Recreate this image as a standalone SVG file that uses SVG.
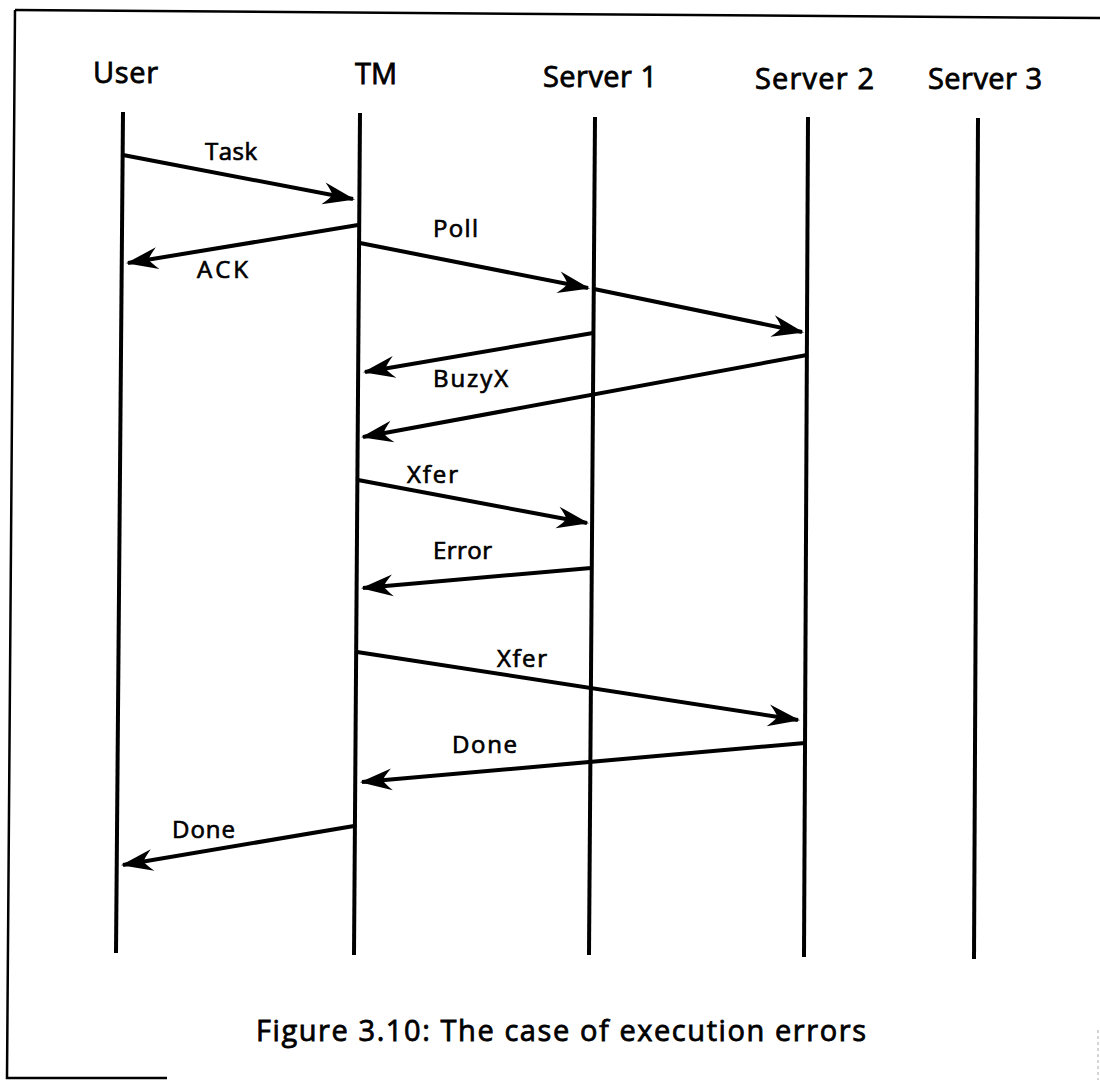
<svg xmlns="http://www.w3.org/2000/svg" width="1100" height="1080" viewBox="0 0 1100 1080">
  <defs>
    <style>
      .frame { fill: none; stroke: #000; stroke-width: 2.5; }
      .life { stroke: #000; stroke-width: 4; stroke-linecap: butt; }
      .msg { stroke: #000; stroke-width: 4; fill: none; marker-end: url(#arrow); }
      .hdr { font-family: "Open Sans", "Noto Sans", "DejaVu Sans", sans-serif; font-size: 29px; font-weight: 400; fill: #000; stroke: #000; stroke-width: 0.8; }
      .lbl { font-family: "Open Sans", "Noto Sans", "DejaVu Sans", sans-serif; font-size: 24px; font-weight: 400; fill: #000; stroke: #000; stroke-width: 0.7; }
      .cap { font-family: "Open Sans", "Noto Sans", "DejaVu Sans", sans-serif; font-size: 29px; font-weight: 400; fill: #000; stroke: #000; stroke-width: 0.8; }
    </style>
    <marker id="arrow" markerUnits="userSpaceOnUse" markerWidth="40" markerHeight="30" viewBox="-36 -15 40 30" refX="0" refY="0" orient="auto">
      <path d="M2,0 L-30,-11 Q-22,-3 -21,0 Q-22,3 -30,11 Z" fill="#000"/>
    </marker>
  </defs>
  <rect width="1100" height="1080" fill="#fff"/>

  <g id="frame">
    <path class="frame" d="M15,10 L1100,18"/>
    <path class="frame" d="M15,10 L7,1078 L167,1078"/>
    <path d="M1098,1030 L1098,1080" stroke="#aaa" stroke-width="1" stroke-dasharray="3,3"/>
  </g>

  <g id="node-user">
    <text class="hdr" x="93" y="83" textLength="65" lengthAdjust="spacing">User</text>
    <line class="life" x1="123" y1="112" x2="116" y2="953"/>
  </g>
  <g id="node-tm">
    <text class="hdr" x="355" y="84">TM</text>
    <line class="life" x1="360" y1="113" x2="354" y2="955"/>
  </g>
  <g id="node-server1">
    <text class="hdr" x="543" y="87" textLength="114" lengthAdjust="spacing">Server 1</text>
    <line class="life" x1="595" y1="117" x2="589" y2="955"/>
  </g>
  <g id="node-server2">
    <text class="hdr" x="755" y="89" textLength="119" lengthAdjust="spacing">Server 2</text>
    <line class="life" x1="808" y1="117" x2="804" y2="957"/>
  </g>
  <g id="node-server3">
    <text class="hdr" x="928" y="89" textLength="114" lengthAdjust="spacing">Server 3</text>
    <line class="life" x1="978" y1="118" x2="974" y2="959"/>
  </g>

  <g id="connectors">
    <g id="msg-task">
      <line class="msg" x1="123" y1="155" x2="353" y2="199"/>
      <text class="lbl" x="205" y="160" textLength="52" lengthAdjust="spacing">Task</text>
    </g>
    <g id="msg-ack">
      <line class="msg" x1="358" y1="225" x2="128" y2="263"/>
      <text class="lbl" x="197" y="278" textLength="51" lengthAdjust="spacing">ACK</text>
    </g>
    <g id="msg-poll1">
      <line class="msg" x1="360" y1="243" x2="588" y2="288"/>
      <text class="lbl" x="433" y="237" textLength="45" lengthAdjust="spacing">Poll</text>
    </g>
    <g id="msg-poll2">
      <line class="msg" x1="594" y1="289" x2="802" y2="332"/>
    </g>
    <g id="msg-buzy1">
      <line class="msg" x1="593" y1="333" x2="365" y2="372"/>
      <text class="lbl" x="433" y="387" textLength="75" lengthAdjust="spacing">BuzyX</text>
    </g>
    <g id="msg-buzy2">
      <line class="msg" x1="807" y1="355" x2="363" y2="437"/>
    </g>
    <g id="msg-xfer1">
      <line class="msg" x1="358" y1="480" x2="587" y2="523"/>
      <text class="lbl" x="407" y="483" textLength="51" lengthAdjust="spacing">Xfer</text>
    </g>
    <g id="msg-error">
      <line class="msg" x1="591" y1="568" x2="363" y2="588"/>
      <text class="lbl" x="433" y="559" textLength="59" lengthAdjust="spacing">Error</text>
    </g>
    <g id="msg-xfer2">
      <line class="msg" x1="357" y1="652" x2="798" y2="720"/>
      <text class="lbl" x="497" y="667" textLength="50" lengthAdjust="spacing">Xfer</text>
    </g>
    <g id="msg-done1">
      <line class="msg" x1="805" y1="743" x2="362" y2="782"/>
      <text class="lbl" x="452" y="753" textLength="65" lengthAdjust="spacing">Done</text>
    </g>
    <g id="msg-done2">
      <line class="msg" x1="354" y1="826" x2="123" y2="865"/>
      <text class="lbl" x="172" y="838" textLength="63" lengthAdjust="spacing">Done</text>
    </g>
  </g>

  <g id="caption">
    <text class="cap" x="256" y="1041" textLength="610" lengthAdjust="spacing">Figure 3.10: The case of execution errors</text>
  </g>
</svg>
